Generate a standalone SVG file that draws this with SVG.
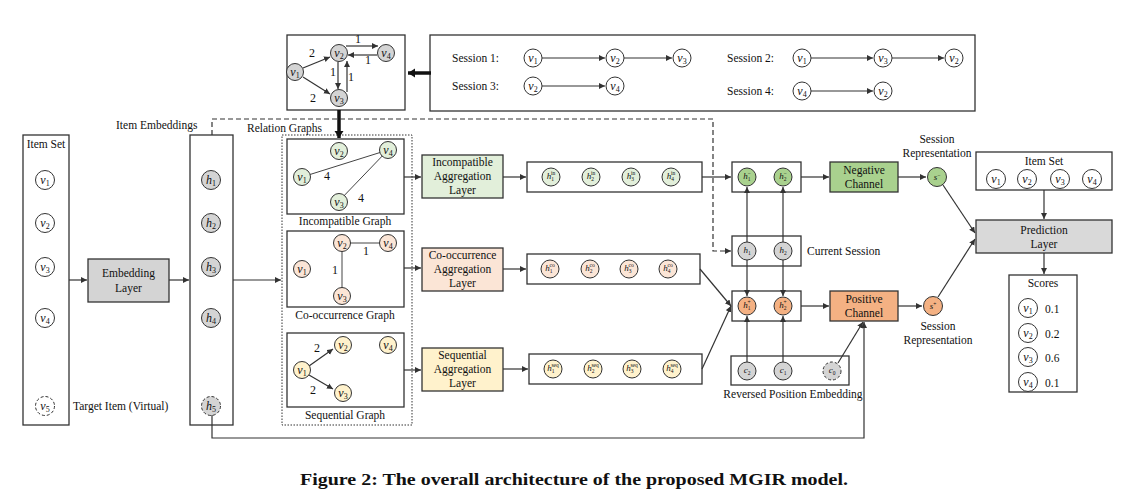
<svg xmlns="http://www.w3.org/2000/svg" width="1147" height="498" viewBox="0 0 1147 498">
<style>
.bx{fill:#fff;stroke:#333;stroke-width:1.3}
.ln{fill:none;stroke:#333;stroke-width:1.2}
.gl{fill:none;stroke:#444;stroke-width:1}
.tk{fill:none;stroke:#111;stroke-width:3.5}
.n{fill:#fff;stroke:#333;stroke-width:1}
.nd{fill:#fff;stroke:#333;stroke-width:1;stroke-dasharray:3,2}
.gr{fill:#d4d4d4}
.pl{fill:#d9d9d9}
.lg{fill:#e2efda}
.pk{fill:#fbe5d6}
.yl{fill:#fff2cc}
.dg{fill:#a9d18e}
.or{fill:#f4b183}
.t{font-family:"Liberation Serif","Times New Roman",serif;font-size:11.5px;fill:#111}
.c{text-anchor:middle}
.mv{font-family:"Liberation Serif","Times New Roman",serif;font-style:italic;font-size:12px;text-anchor:middle;fill:#111}
.s{font-style:normal;font-size:8px}
.mh{font-family:"Liberation Serif","Times New Roman",serif;font-style:italic;font-size:9px;text-anchor:middle;fill:#111}
.ss{font-style:normal;font-size:5.5px}
.num{font-family:"Liberation Serif","Times New Roman",serif;font-size:12px;fill:#111;text-anchor:middle}
.cap{font-family:"Liberation Serif","Times New Roman",serif;font-size:17px;font-weight:bold;fill:#111;text-anchor:middle}
</style>
<defs>
<marker id="a" markerWidth="8" markerHeight="8" refX="6" refY="3" orient="auto" markerUnits="userSpaceOnUse"><path d="M0,0 L6,3 L0,6 z" fill="#333"/></marker>
<marker id="ta" markerWidth="12" markerHeight="12" refX="7" refY="4.5" orient="auto" markerUnits="userSpaceOnUse"><path d="M0,0 L7,4.5 L0,9 z" fill="#111"/></marker>
</defs>
<rect width="1147" height="498" fill="#fff"/>

<!-- Top relation source graph -->
<g id="source-graph">
<rect class="bx" x="287" y="35" width="118" height="75"/>
<circle class="n gr" cx="295" cy="72" r="8.5"/><text class="mv" x="295" y="75.5">v<tspan class="s" dy="2.5">1</tspan></text>
<circle class="n gr" cx="339" cy="53" r="8.5"/><text class="mv" x="339" y="56.5">v<tspan class="s" dy="2.5">2</tspan></text>
<circle class="n gr" cx="386" cy="53" r="8.5"/><text class="mv" x="386" y="56.5">v<tspan class="s" dy="2.5">4</tspan></text>
<circle class="n gr" cx="339" cy="98" r="8.5"/><text class="mv" x="339" y="101.5">v<tspan class="s" dy="2.5">3</tspan></text>
<text class="num" x="312" y="57">2</text>
<text class="num" x="313" y="102">2</text>
<text class="num" x="358" y="43">1</text>
<text class="num" x="368" y="64">1</text>
<text class="num" x="333" y="76">1</text>
<text class="num" x="351" y="81">1</text>
</g>

<!-- Sessions box -->
<g id="sessions">
<rect class="bx" x="430" y="35" width="545" height="76"/>
<text class="t" x="452" y="62">Session 1:</text>
<text class="t" x="452" y="90">Session 3:</text>
<text class="t" x="727" y="62">Session 2:</text>
<text class="t" x="727" y="95">Session 4:</text>
<circle class="n" cx="533" cy="58" r="9"/><text class="mv" x="533" y="61.5">v<tspan class="s" dy="2.5">1</tspan></text>
<circle class="n" cx="615" cy="58" r="9"/><text class="mv" x="615" y="61.5">v<tspan class="s" dy="2.5">2</tspan></text>
<circle class="n" cx="682" cy="58" r="9"/><text class="mv" x="682" y="61.5">v<tspan class="s" dy="2.5">3</tspan></text>
<circle class="n" cx="533" cy="86" r="9"/><text class="mv" x="533" y="89.5">v<tspan class="s" dy="2.5">2</tspan></text>
<circle class="n" cx="615" cy="86" r="9"/><text class="mv" x="615" y="89.5">v<tspan class="s" dy="2.5">4</tspan></text>
<circle class="n" cx="802" cy="58" r="9"/><text class="mv" x="802" y="61.5">v<tspan class="s" dy="2.5">1</tspan></text>
<circle class="n" cx="883" cy="58" r="9"/><text class="mv" x="883" y="61.5">v<tspan class="s" dy="2.5">3</tspan></text>
<circle class="n" cx="954" cy="58" r="9"/><text class="mv" x="954" y="61.5">v<tspan class="s" dy="2.5">2</tspan></text>
<circle class="n" cx="802" cy="91" r="9"/><text class="mv" x="802" y="94.5">v<tspan class="s" dy="2.5">4</tspan></text>
<circle class="n" cx="883" cy="91" r="9"/><text class="mv" x="883" y="94.5">v<tspan class="s" dy="2.5">2</tspan></text>
</g>

<!-- Left item set -->
<g id="item-set">
<rect class="bx" x="23" y="135" width="46" height="290"/>
<text class="t c" x="46" y="148">Item Set</text>
<circle class="n" cx="45" cy="180" r="9.5"/><text class="mv" x="45" y="183.5">v<tspan class="s" dy="2.5">1</tspan></text>
<circle class="n" cx="45" cy="223" r="9.5"/><text class="mv" x="45" y="226.5">v<tspan class="s" dy="2.5">2</tspan></text>
<circle class="n" cx="45" cy="267" r="9.5"/><text class="mv" x="45" y="270.5">v<tspan class="s" dy="2.5">3</tspan></text>
<circle class="n" cx="45" cy="318" r="9.5"/><text class="mv" x="45" y="321.5">v<tspan class="s" dy="2.5">4</tspan></text>
<circle class="nd" cx="45" cy="406" r="9.5"/><text class="mv" x="45" y="409.5">v<tspan class="s" dy="2.5">5</tspan></text>
<text class="t" x="73" y="410">Target Item (Virtual)</text>
</g>

<g id="embedding-layer">
<rect class="bx gr" x="88" y="259" width="81" height="43"/>
<text class="t c" x="128.5" y="277">Embedding</text>
<text class="t c" x="128.5" y="292">Layer</text>
</g>

<g id="item-embeddings">
<rect class="bx" x="190" y="135" width="43" height="290"/>
<text class="t" x="116" y="129">Item Embeddings</text>
<circle class="n gr" cx="211" cy="180" r="9.5"/><text class="mv" x="211" y="183.5">h<tspan class="s" dy="2.5">1</tspan></text>
<circle class="n gr" cx="211" cy="223" r="9.5"/><text class="mv" x="211" y="226.5">h<tspan class="s" dy="2.5">2</tspan></text>
<circle class="n gr" cx="211" cy="267" r="9.5"/><text class="mv" x="211" y="270.5">h<tspan class="s" dy="2.5">3</tspan></text>
<circle class="n gr" cx="211" cy="318" r="9.5"/><text class="mv" x="211" y="321.5">h<tspan class="s" dy="2.5">4</tspan></text>
<circle class="nd gr" cx="211" cy="406" r="9.5"/><text class="mv" x="211" y="409.5">h<tspan class="s" dy="2.5">5</tspan></text>
</g>

<!-- Relation graphs -->
<g id="relation-graphs">
<rect x="282" y="135" width="130" height="290" fill="none" stroke="#333" stroke-width="1" stroke-dasharray="1.5,1.5"/>
<text class="t" x="247" y="132">Relation Graphs</text>
</g>

<g id="incompatible-graph">
<rect class="bx" x="287" y="139" width="117" height="75"/>
<line class="gl" x1="302" y1="177" x2="388" y2="150"/>
<line class="gl" x1="388" y1="150" x2="338" y2="202"/>
<circle class="n lg" cx="339" cy="151" r="8.5"/><text class="mv" x="339" y="154.5">v<tspan class="s" dy="2.5">2</tspan></text>
<circle class="n lg" cx="388" cy="150" r="8.5"/><text class="mv" x="388" y="153.5">v<tspan class="s" dy="2.5">4</tspan></text>
<circle class="n lg" cx="302" cy="177" r="8.5"/><text class="mv" x="302" y="180.5">v<tspan class="s" dy="2.5">1</tspan></text>
<circle class="n lg" cx="339" cy="202" r="8.5"/><text class="mv" x="339" y="205.5">v<tspan class="s" dy="2.5">3</tspan></text>
<text class="num" x="327" y="180">4</text>
<text class="num" x="361" y="202">4</text>
<text class="t c" x="345" y="225">Incompatible Graph</text>
</g>

<g id="cooccurrence-graph">
<rect class="bx" x="287" y="231" width="117" height="76"/>
<line class="gl" x1="342" y1="243" x2="388" y2="243"/>
<line class="gl" x1="342" y1="243" x2="342" y2="296"/>
<circle class="n pk" cx="342" cy="243" r="8.5"/><text class="mv" x="342" y="246.5">v<tspan class="s" dy="2.5">2</tspan></text>
<circle class="n pk" cx="388" cy="243" r="8.5"/><text class="mv" x="388" y="246.5">v<tspan class="s" dy="2.5">4</tspan></text>
<circle class="n pk" cx="302" cy="269" r="8.5"/><text class="mv" x="302" y="272.5">v<tspan class="s" dy="2.5">1</tspan></text>
<circle class="n pk" cx="342" cy="296" r="8.5"/><text class="mv" x="342" y="299.5">v<tspan class="s" dy="2.5">3</tspan></text>
<text class="num" x="366" y="255">1</text>
<text class="num" x="335" y="274">1</text>
<text class="t c" x="345" y="319">Co-occurrence Graph</text>
</g>

<g id="sequential-graph">
<rect class="bx" x="287" y="333" width="117" height="74"/>
<line class="ln" x1="309" y1="366" x2="333" y2="349" marker-end="url(#a)"/>
<line class="ln" x1="309" y1="375" x2="333" y2="389" marker-end="url(#a)"/>
<circle class="n yl" cx="343" cy="345" r="8.5"/><text class="mv" x="343" y="348.5">v<tspan class="s" dy="2.5">2</tspan></text>
<circle class="n yl" cx="388" cy="345" r="8.5"/><text class="mv" x="388" y="348.5">v<tspan class="s" dy="2.5">4</tspan></text>
<circle class="n yl" cx="302" cy="370" r="8.5"/><text class="mv" x="302" y="373.5">v<tspan class="s" dy="2.5">1</tspan></text>
<circle class="n yl" cx="343" cy="393" r="8.5"/><text class="mv" x="343" y="396.5">v<tspan class="s" dy="2.5">3</tspan></text>
<text class="num" x="317" y="352">2</text>
<text class="num" x="313" y="394">2</text>
<text class="t c" x="345" y="419">Sequential Graph</text>
</g>

<!-- Aggregation layers -->
<g id="incompatible-agg">
<rect class="bx lg" x="422" y="155" width="81" height="43"/>
<text class="t c" x="462.5" y="166">Incompatible</text>
<text class="t c" x="462.5" y="180">Aggregation</text>
<text class="t c" x="462.5" y="194">Layer</text>
</g>
<g id="cooccurrence-agg">
<rect class="bx pk" x="422" y="248" width="81" height="43"/>
<text class="t c" x="462.5" y="259">Co-occurrence</text>
<text class="t c" x="462.5" y="273">Aggregation</text>
<text class="t c" x="462.5" y="287">Layer</text>
</g>
<g id="sequential-agg">
<rect class="bx yl" x="422" y="348" width="81" height="43"/>
<text class="t c" x="462.5" y="359">Sequential</text>
<text class="t c" x="462.5" y="373">Aggregation</text>
<text class="t c" x="462.5" y="387">Layer</text>
</g>

<!-- Relation-specific embeddings -->
<g id="h-in">
<rect class="bx" x="527" y="162" width="175" height="30"/>
<circle class="n lg" cx="551" cy="177" r="9"/><text class="mh" x="551" y="179">h<tspan class="ss" dy="2">1</tspan><tspan class="ss" dx="-3" dy="-6">in</tspan></text>
<circle class="n lg" cx="591" cy="177" r="9"/><text class="mh" x="591" y="179">h<tspan class="ss" dy="2">2</tspan><tspan class="ss" dx="-3" dy="-6">in</tspan></text>
<circle class="n lg" cx="631" cy="177" r="9"/><text class="mh" x="631" y="179">h<tspan class="ss" dy="2">3</tspan><tspan class="ss" dx="-3" dy="-6">in</tspan></text>
<circle class="n lg" cx="671" cy="177" r="9"/><text class="mh" x="671" y="179">h<tspan class="ss" dy="2">4</tspan><tspan class="ss" dx="-3" dy="-6">in</tspan></text>
</g>
<g id="h-co">
<rect class="bx" x="527" y="254" width="173" height="30"/>
<circle class="n pk" cx="550" cy="269" r="9"/><text class="mh" x="550" y="271">h<tspan class="ss" dy="2">1</tspan><tspan class="ss" dx="-3" dy="-6">co</tspan></text>
<circle class="n pk" cx="590" cy="269" r="9"/><text class="mh" x="590" y="271">h<tspan class="ss" dy="2">2</tspan><tspan class="ss" dx="-3" dy="-6">co</tspan></text>
<circle class="n pk" cx="629" cy="269" r="9"/><text class="mh" x="629" y="271">h<tspan class="ss" dy="2">3</tspan><tspan class="ss" dx="-3" dy="-6">co</tspan></text>
<circle class="n pk" cx="668" cy="269" r="9"/><text class="mh" x="668" y="271">h<tspan class="ss" dy="2">4</tspan><tspan class="ss" dx="-3" dy="-6">co</tspan></text>
</g>
<g id="h-seq">
<rect class="bx" x="529" y="354" width="173" height="30"/>
<circle class="n yl" cx="553" cy="369" r="9"/><text class="mh" x="553" y="371">h<tspan class="ss" dy="2">1</tspan><tspan class="ss" dx="-3" dy="-6">seq</tspan></text>
<circle class="n yl" cx="593" cy="369" r="9"/><text class="mh" x="593" y="371">h<tspan class="ss" dy="2">2</tspan><tspan class="ss" dx="-3" dy="-6">seq</tspan></text>
<circle class="n yl" cx="632" cy="369" r="9"/><text class="mh" x="632" y="371">h<tspan class="ss" dy="2">3</tspan><tspan class="ss" dx="-3" dy="-6">seq</tspan></text>
<circle class="n yl" cx="672" cy="369" r="9"/><text class="mh" x="672" y="371">h<tspan class="ss" dy="2">4</tspan><tspan class="ss" dx="-3" dy="-6">seq</tspan></text>
</g>

<!-- Session-level boxes -->
<g id="h-neg">
<rect class="bx" x="732" y="162" width="69" height="30"/>
<circle class="n dg" cx="747" cy="177" r="9"/><text class="mh" x="747" y="179">h<tspan class="ss" dy="2">1</tspan><tspan class="ss" dx="-3" dy="-6">−</tspan></text>
<circle class="n dg" cx="783" cy="177" r="9"/><text class="mh" x="783" y="179">h<tspan class="ss" dy="2">2</tspan><tspan class="ss" dx="-3" dy="-6">−</tspan></text>
</g>
<g id="current-session">
<rect class="bx" x="732" y="236" width="69" height="30"/>
<circle class="n gr" cx="747" cy="251" r="9"/><text class="mh" x="747" y="253">h<tspan class="ss" dy="2">1</tspan></text>
<circle class="n gr" cx="783" cy="251" r="9"/><text class="mh" x="783" y="253">h<tspan class="ss" dy="2">2</tspan></text>
<text class="t" x="807" y="255">Current Session</text>
</g>
<g id="h-pos">
<rect class="bx" x="732" y="291" width="69" height="30"/>
<circle class="n or" cx="747" cy="306" r="9"/><text class="mh" x="747" y="308">h<tspan class="ss" dy="2">1</tspan><tspan class="ss" dx="-3" dy="-6">+</tspan></text>
<circle class="n or" cx="783" cy="306" r="9"/><text class="mh" x="783" y="308">h<tspan class="ss" dy="2">2</tspan><tspan class="ss" dx="-3" dy="-6">+</tspan></text>
</g>
<g id="reversed-position">
<rect class="bx" x="731" y="356" width="118" height="29"/>
<circle class="n gr" cx="747" cy="371" r="9"/><text class="mh" x="747" y="373">c<tspan class="ss" dy="2">2</tspan></text>
<circle class="n gr" cx="783" cy="371" r="9"/><text class="mh" x="783" y="373">c<tspan class="ss" dy="2">1</tspan></text>
<circle class="nd gr" cx="832" cy="371" r="9"/><text class="mh" x="832" y="373">c<tspan class="ss" dy="2">0</tspan></text>
<text class="t c" x="793" y="398">Reversed Position Embedding</text>
</g>

<g id="negative-channel">
<rect class="bx dg" x="830" y="162" width="68" height="30"/>
<text class="t c" x="864" y="174">Negative</text>
<text class="t c" x="864" y="188">Channel</text>
</g>
<g id="positive-channel">
<rect class="bx or" x="830" y="291" width="68" height="30"/>
<text class="t c" x="864" y="303">Positive</text>
<text class="t c" x="864" y="317">Channel</text>
</g>

<g id="s-neg">
<circle class="n dg" cx="937" cy="177" r="9.5"/><text class="mh" x="937" y="180">s<tspan class="ss" dy="-3">−</tspan></text>
<text class="t c" x="937" y="143">Session</text>
<text class="t c" x="937" y="157">Representation</text>
</g>
<g id="s-pos">
<circle class="n or" cx="933" cy="306" r="9.5"/><text class="mh" x="933" y="309">s<tspan class="ss" dy="-3">+</tspan></text>
<text class="t c" x="938" y="330">Session</text>
<text class="t c" x="938" y="344">Representation</text>
</g>

<g id="item-set-right">
<rect class="bx" x="976" y="152" width="136" height="38"/>
<text class="t c" x="1044" y="165">Item Set</text>
<circle class="n" cx="996" cy="179" r="9.5"/><text class="mv" x="996" y="182.5">v<tspan class="s" dy="2.5">1</tspan></text>
<circle class="n" cx="1027" cy="179" r="9.5"/><text class="mv" x="1027" y="182.5">v<tspan class="s" dy="2.5">2</tspan></text>
<circle class="n" cx="1060" cy="179" r="9.5"/><text class="mv" x="1060" y="182.5">v<tspan class="s" dy="2.5">3</tspan></text>
<circle class="n" cx="1092" cy="179" r="9.5"/><text class="mv" x="1092" y="182.5">v<tspan class="s" dy="2.5">4</tspan></text>
</g>
<g id="prediction-layer">
<rect class="bx pl" x="976" y="220" width="136" height="33"/>
<text class="t c" x="1044" y="234">Prediction</text>
<text class="t c" x="1044" y="248">Layer</text>
</g>
<g id="scores">
<rect class="bx" x="1009" y="275" width="68" height="117"/>
<text class="t c" x="1043" y="287">Scores</text>
<circle class="n" cx="1028" cy="308" r="9.5"/><text class="mv" x="1028" y="311.5">v<tspan class="s" dy="2.5">1</tspan></text><text class="t" x="1045" y="312.5" font-size="12.5">0.1</text>
<circle class="n" cx="1028" cy="333" r="9.5"/><text class="mv" x="1028" y="336.5">v<tspan class="s" dy="2.5">2</tspan></text><text class="t" x="1045" y="337.5" font-size="12.5">0.2</text>
<circle class="n" cx="1028" cy="357" r="9.5"/><text class="mv" x="1028" y="360.5">v<tspan class="s" dy="2.5">3</tspan></text><text class="t" x="1045" y="361.5" font-size="12.5">0.6</text>
<circle class="n" cx="1028" cy="382" r="9.5"/><text class="mv" x="1028" y="385.5">v<tspan class="s" dy="2.5">4</tspan></text><text class="t" x="1045" y="386.5" font-size="12.5">0.1</text>
</g>

<!-- Connectors -->
<g id="connectors">
<g class="ln" stroke-width="1.5">
<line x1="303" y1="68" x2="330" y2="57" marker-end="url(#a)"/>
<line x1="303" y1="77" x2="330" y2="94" marker-end="url(#a)"/>
<line x1="346" y1="46" x2="378" y2="46" marker-end="url(#a)"/>
<line x1="377" y1="55" x2="348" y2="55" marker-end="url(#a)"/>
<line x1="338" y1="62" x2="338" y2="89" marker-end="url(#a)"/>
<line x1="347" y1="92" x2="347" y2="61" marker-end="url(#a)"/>
</g>
<line class="ln" x1="542" y1="58" x2="605" y2="58" marker-end="url(#a)"/>
<line class="ln" x1="624" y1="58" x2="672" y2="58" marker-end="url(#a)"/>
<line class="ln" x1="542" y1="86" x2="605" y2="86" marker-end="url(#a)"/>
<line class="ln" x1="811" y1="58" x2="873" y2="58" marker-end="url(#a)"/>
<line class="ln" x1="892" y1="58" x2="944" y2="58" marker-end="url(#a)"/>
<line class="ln" x1="811" y1="91" x2="873" y2="91" marker-end="url(#a)"/>
<line class="tk" x1="431" y1="73" x2="408" y2="73" marker-end="url(#ta)"/>
<line class="tk" x1="339" y1="110" x2="339" y2="138" marker-end="url(#ta)"/>
<line class="ln" x1="69" y1="280" x2="87" y2="280" marker-end="url(#a)"/>
<line class="ln" x1="169" y1="280" x2="189" y2="280" marker-end="url(#a)"/>
<line class="ln" x1="233" y1="280" x2="281" y2="280" marker-end="url(#a)"/>
<line class="ln" x1="404" y1="177" x2="421" y2="177" marker-end="url(#a)"/>
<line class="ln" x1="404" y1="268" x2="421" y2="268" marker-end="url(#a)"/>
<line class="ln" x1="404" y1="370" x2="421" y2="370" marker-end="url(#a)"/>
<line class="ln" x1="503" y1="177" x2="526" y2="177" marker-end="url(#a)"/>
<line class="ln" x1="503" y1="269" x2="526" y2="269" marker-end="url(#a)"/>
<line class="ln" x1="503" y1="369" x2="528" y2="369" marker-end="url(#a)"/>
<line class="ln" x1="702" y1="177" x2="731" y2="177" marker-end="url(#a)"/>
<line class="ln" x1="700" y1="269" x2="731" y2="306" marker-end="url(#a)"/>
<line class="ln" x1="702" y1="369" x2="731" y2="306" marker-end="url(#a)"/>
<path class="ln" d="M212,135 V119 H713 V251 H731" stroke-dasharray="5,3" marker-end="url(#a)"/>
<line class="ln" x1="747" y1="242" x2="747" y2="187" marker-end="url(#a)"/>
<line class="ln" x1="783" y1="242" x2="783" y2="187" marker-end="url(#a)"/>
<line class="ln" x1="747" y1="260" x2="747" y2="296" marker-end="url(#a)"/>
<line class="ln" x1="783" y1="260" x2="783" y2="296" marker-end="url(#a)"/>
<line class="ln" x1="747" y1="362" x2="747" y2="316" marker-end="url(#a)"/>
<line class="ln" x1="783" y1="362" x2="783" y2="316" marker-end="url(#a)"/>
<line class="ln" x1="801" y1="177" x2="829" y2="177" marker-end="url(#a)"/>
<line class="ln" x1="801" y1="306" x2="829" y2="306" marker-end="url(#a)"/>
<line class="ln" x1="838" y1="363" x2="863" y2="322" marker-end="url(#a)"/>
<path class="ln" d="M212,415 V438 H864 V322" marker-end="url(#a)"/>
<line class="ln" x1="898" y1="177" x2="926" y2="177" marker-end="url(#a)"/>
<line class="ln" x1="898" y1="306" x2="922" y2="306" marker-end="url(#a)"/>
<line class="ln" x1="943" y1="185" x2="975" y2="233" marker-end="url(#a)"/>
<line class="ln" x1="938" y1="297" x2="975" y2="239" marker-end="url(#a)"/>
<line class="ln" x1="1044" y1="190" x2="1044" y2="219" marker-end="url(#a)"/>
<line class="ln" x1="1044" y1="253" x2="1044" y2="274" marker-end="url(#a)"/>
</g>

<text class="cap" x="574" y="485" textLength="548" lengthAdjust="spacingAndGlyphs">Figure 2: The overall architecture of the proposed MGIR model.</text>
</svg>
